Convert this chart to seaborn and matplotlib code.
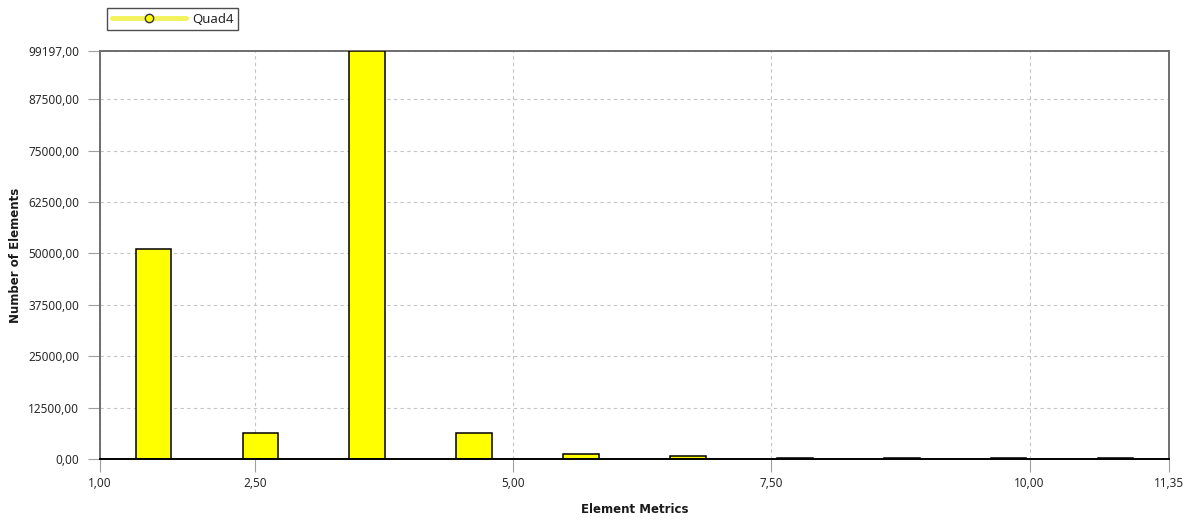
import numpy as np
import pandas as pd
import matplotlib
matplotlib.use("Agg")
import matplotlib.pyplot as plt
from matplotlib.lines import Line2D
import seaborn as sns

# Element metric histogram (10 bins over the metric range)
metric_min = 1.00
metric_max = 11.35
element_counts = [51000, 6400, 99197, 6400, 1200, 650, 260, 250, 250, 260]
series_name = "Quad4"

x_ticks = [1.00, 2.50, 5.00, 7.50, 10.00, 11.35]
y_ticks = [0, 12500, 25000, 37500, 50000, 62500, 75000, 87500, 99197]

edges = np.linspace(metric_min, metric_max, len(element_counts) + 1)
centers = (edges[:-1] + edges[1:]) / 2
df = pd.DataFrame({"metric": centers, "count": element_counts})

sns.set_style("white")
plt.rcParams["font.family"] = ["Noto Sans", "DejaVu Sans"]

fig = plt.figure(figsize=(11.97, 5.20), dpi=100)
ax = fig.add_axes([100 / 1197, 1 - 459 / 520, 1069 / 1197, 408 / 520])

sns.barplot(data=df, x="metric", y="count", native_scale=True, width=1 / 3,
            color="#ffff00", edgecolor="black", linewidth=1.1,
            saturation=1, ax=ax, zorder=3)

ax.set_xlim(metric_min, metric_max)
ax.set_ylim(0, y_ticks[-1])
ax.set_xticks(x_ticks)
ax.set_yticks(y_ticks)
ax.set_xticklabels([f"{v:.2f}".replace(".", ",") for v in x_ticks])
ax.set_yticklabels([f"{v:.2f}".replace(".", ",") for v in y_ticks])

ax.grid(True, color="#c4c4c4", linestyle=(0, (3, 3)), linewidth=0.8, zorder=0)
ax.set_axisbelow(True)

for side in ["left", "top", "right"]:
    ax.spines[side].set_color("#6e6e6e")
    ax.spines[side].set_linewidth(1.4)
ax.spines["bottom"].set_color("black")
ax.spines["bottom"].set_linewidth(1.4)
ax.spines["bottom"].set_zorder(5)

ax.tick_params(axis="both", which="major", labelsize=8.5, labelcolor="#2a2a2a",
               color="#a0a0a0", length=9, width=0.8, direction="out",
               left=True, bottom=True)
ax.tick_params(axis="x", pad=4)
ax.tick_params(axis="y", pad=6)

label_font = dict(family="DejaVu Sans", fontsize=8.5, fontweight="bold",
                  color="#1a1a1a")
ax.set_xlabel("Element Metrics", labelpad=9, **label_font)
ax.set_ylabel("Number of Elements", labelpad=4, **label_font)

handle = Line2D([0], [0], color="#f2f25a", linewidth=3.5, marker="o",
                markersize=6, markerfacecolor="#ffff00",
                markeredgecolor="#333333", markeredgewidth=1.0)
leg = fig.legend([handle], [series_name], loc="upper left",
                 bbox_to_anchor=(107 / 1197, 1 - 8 / 520),
                 frameon=True, fancybox=False, fontsize=9.5,
                 handlelength=5.6, handletextpad=0.5, borderpad=0.35,
                 borderaxespad=0)
leg.get_frame().set_edgecolor("#222222")
leg.get_frame().set_linewidth(1.0)

fig.savefig("out.png", dpi=100)
